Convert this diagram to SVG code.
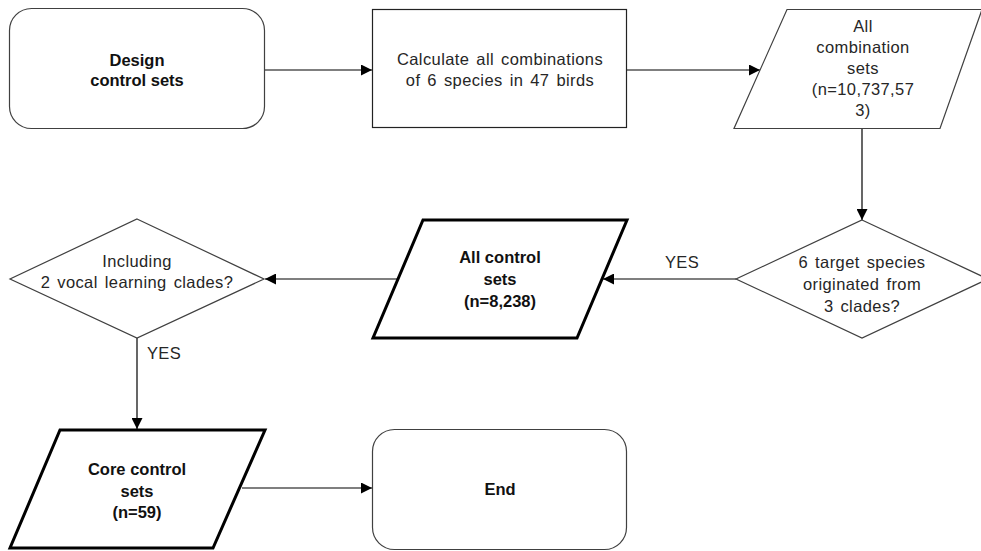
<svg xmlns="http://www.w3.org/2000/svg" width="981" height="551" viewBox="0 0 981 551">
<defs>
<style>
.t{font-family:"Liberation Sans",Arial,sans-serif;font-size:16.5px;fill:#262626;text-anchor:middle;letter-spacing:0.4px;word-spacing:2px}
.b{font-family:"Liberation Sans",Arial,sans-serif;font-size:16.5px;font-weight:bold;fill:#111;text-anchor:middle}
.thin{fill:#fff;stroke:#404040;stroke-width:1.2}
.thick{fill:#fff;stroke:#000;stroke-width:3}
.c{fill:none;stroke:#000;stroke-width:1.2}
</style>
<marker id="ah" viewBox="0 0 12 12" refX="12" refY="6" markerWidth="12" markerHeight="11" markerUnits="userSpaceOnUse" orient="auto">
<path d="M0,0 L12,6 L0,12 Z" fill="#000"/>
</marker>
</defs>
<rect width="981" height="551" fill="#fff"/>
<g id="connectors">
<line class="c" x1="265" y1="70" x2="372" y2="70" marker-end="url(#ah)"/>
<line class="c" x1="627" y1="70" x2="760" y2="70" marker-end="url(#ah)"/>
<line class="c" x1="862" y1="129" x2="862" y2="220" marker-end="url(#ah)"/>
<line class="c" x1="736" y1="279" x2="603" y2="279" marker-end="url(#ah)"/>
<line class="c" x1="398" y1="279" x2="265" y2="279" marker-end="url(#ah)"/>
<line class="c" x1="137" y1="338" x2="137" y2="429" marker-end="url(#ah)"/>
<line class="c" x1="242" y1="488" x2="372" y2="488" marker-end="url(#ah)"/>
<text class="t" x="682" y="268">YES</text>
<text class="t" x="164" y="359">YES</text>
</g>
<g id="design">
<rect class="thin" x="9.5" y="8.5" width="255" height="120" rx="22"/>
<text class="b" x="137" y="66">Design</text>
<text class="b" x="137" y="86">control sets</text>
</g>
<g id="calculate">
<rect class="thin" x="372.5" y="9.5" width="254" height="118" style="stroke:#222"/>
<text class="t" x="500" y="65">Calculate all combinations</text>
<text class="t" x="500" y="86">of 6 species in 47 birds</text>
</g>
<g id="allcombination">
<polygon class="thin" points="787,9.5 982,9.5 940,128.5 734,128.5"/>
<text class="t" x="863" y="32">All</text>
<text class="t" x="863" y="53">combination</text>
<text class="t" x="863" y="74">sets</text>
<text class="t" x="863" y="95">(n=10,737,57</text>
<text class="t" x="863" y="116">3)</text>
</g>
<g id="targetclades">
<polygon class="thin" points="862,220 988,279 862,338 736,279"/>
<text class="t" x="862" y="268">6 target species</text>
<text class="t" x="862" y="290">originated from</text>
<text class="t" x="862" y="312">3 clades?</text>
</g>
<g id="allcontrol">
<polygon class="thick" points="423,220 627,220 577,338 373,338"/>
<text class="b" x="500" y="263">All control</text>
<text class="b" x="500" y="285">sets</text>
<text class="b" x="500" y="307">(n=8,238)</text>
</g>
<g id="vocal">
<polygon class="thin" points="137,219 264,279 137,338 10,279"/>
<text class="t" x="137" y="267">Including</text>
<text class="t" x="137" y="288">2 vocal learning clades?</text>
</g>
<g id="corecontrol">
<polygon class="thick" points="60,430 265,430 213,548 10,548"/>
<text class="b" x="137" y="475">Core control</text>
<text class="b" x="137" y="497">sets</text>
<text class="b" x="137" y="518">(n=59)</text>
</g>
<g id="end">
<rect class="thin" x="372.5" y="429.5" width="254" height="120" rx="22"/>
<text class="b" x="500" y="495">End</text>
</g>
</svg>
